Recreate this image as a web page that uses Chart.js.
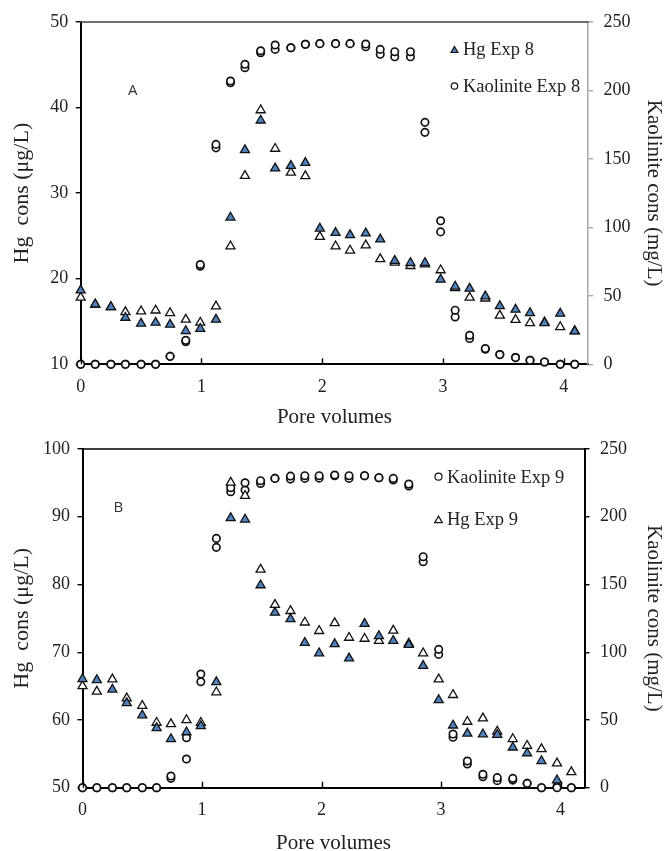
<!DOCTYPE html>
<html>
<head>
<meta charset="utf-8">
<script src="https://cdn.jsdelivr.net/npm/chart.js@4.4.1/dist/chart.umd.min.js"></script>
<style>
  html, body { margin: 0; padding: 0; background: #fff; }
  #wrap { position: relative; width: 664px; height: 851px; }
  #wrap canvas { position: absolute; left: 0; top: 0; }
</style>
</head>
<body>
<div id="wrap">
  <canvas id="exp8" width="664" height="851"></canvas>
  <canvas id="exp9" width="664" height="851"></canvas>
</div>
<script>
// Sampling points (pore volumes eluted)
const poreVolumes = [0, 0.12, 0.25, 0.37, 0.50, 0.62, 0.74, 0.87, 0.99, 1.12,
  1.24, 1.36, 1.49, 1.61, 1.74, 1.86, 1.98, 2.11, 2.23, 2.36,
  2.48, 2.60, 2.73, 2.85, 2.98, 3.10, 3.22, 3.35, 3.47, 3.60,
  3.72, 3.84, 3.97, 4.09];

// Experiment 8 — Hg (µg/L), two replicate columns
const hgExp8A = [18.65, 17.0, 16.7, 15.45, 14.76, 14.87, 14.64, 13.9, 14.16, 15.23,
  27.16, 35.03, 38.5, 32.9, 33.2, 33.55, 25.87, 25.36, 25.1, 25.3,
  24.6, 22.1, 21.85, 21.85, 19.9, 19.1, 18.85, 17.95, 16.8, 16.4,
  16.0, 14.83, 15.93, 13.86];
const hgExp8B = [17.8, 17.0, 16.7, 16.1, 16.2, 16.3, 16.0, 15.23, 14.87, 16.78,
  23.8, 32.02, 39.7, 35.2, 32.4, 32.0, 24.9, 23.8, 23.3, 23.9,
  22.3, 21.9, 21.5, 21.7, 21.0, 18.93, 17.8, 17.7, 15.7, 15.2,
  14.83, 14.9, 14.36, 13.9];
// Experiment 8 — kaolinite (mg/L)
const kaolExp8A = [0, 0, 0, 0, 0, 0, 5.8, 17.5, 72.9, 160.6,
  206.9, 219.1, 229.0, 233.2, 231.2, 233.7, 234.2, 234.2, 234.2, 233.9,
  230.0, 228.3, 228.3, 176.7, 104.8, 39.5, 21.2, 11.5, 7.1, 4.9,
  2.9, 1.7, 0, 0];
const kaolExp8B = [0, 0, 0, 0, 0, 0, 5.8, 16.5, 71.6, 158.1,
  205.6, 216.6, 227.6, 230.0, 231.2, 233.7, 234.2, 234.2, 234.2, 231.9,
  226.4, 224.6, 224.6, 169.4, 96.7, 34.6, 18.8, 11.0, 7.1, 4.9,
  2.9, 1.7, 0, 0];

// Experiment 9 — Hg (µg/L)
const hgExp9A = [66.05, 65.9, 64.5, 62.5, 60.7, 58.8, 57.2, 58.2, 59.1, 65.6,
  89.8, 89.6, 79.9, 75.85, 74.9, 71.4, 69.85, 71.2, 69.1, 74.2,
  72.4, 71.7, 71.1, 68.0, 62.95, 59.2, 58.0, 57.9, 57.8, 55.95,
  55.1, 53.95, 51.1, null];
const hgExp9B = [65.0, 64.2, 66.0, 63.2, 62.1, 59.6, 59.4, 60.0, 59.6, 64.1,
  95.05, 93.1, 82.2, 77.0, 76.1, 74.4, 73.15, 74.3, 72.15, 72.0,
  71.7, 73.2, 71.3, 69.85, 66.0, 63.7, 59.75, 60.25, 58.3, 57.2,
  56.2, 55.7, 53.6, 52.3];
// Experiment 9 — kaolinite (mg/L)
const kaolExp9A = [0, 0, 0, 0, 0, 0, 8.6, 36.9, 83.9, 184.0,
  221.4, 225.1, 226.6, 228.3, 230.0, 230.3, 230.3, 230.8, 230.3, 230.3,
  228.8, 228.3, 224.1, 170.5, 102.1, 39.6, 19.7, 9.9, 7.4, 6.9,
  3.2, 0, 0, 0];
const kaolExp9B = [0, 0, 0, 0, 0, 0, 6.9, 21.2, 78.2, 177.4,
  218.5, 219.7, 224.6, 228.3, 227.8, 228.3, 228.5, 230.3, 228.3, 230.3,
  228.8, 227.1, 222.7, 166.8, 98.4, 37.2, 17.5, 8.1, 5.2, 5.6,
  3.2, 0, 1, 0];

// Axis ticks
const poreTicks = [0, 1, 2, 3, 4];
const hgTicks8 = [10, 20, 30, 40, 50];
const hgTicks9 = [50, 60, 70, 80, 90, 100];
const kaolTicks = [0, 50, 100, 150, 200, 250];

const SERIF = "'Liberation Serif', 'Times New Roman', serif";
const BLUE = '#4f81bd';

function points(values) {
  return poreVolumes.map((x, i) => ({ x: x, y: values[i] }));
}

function triPath(ctx, x, y, r) {
  ctx.beginPath();
  for (let k = 0; k < 3; k++) {
    const a = k * 2 * Math.PI / 3;
    const px = x + Math.sin(a) * r, py = y - Math.cos(a) * r;
    if (k === 0) ctx.moveTo(px, py); else ctx.lineTo(px, py);
  }
  ctx.closePath();
}

// Frame line on top, inward ticks on the pore-volume axis, panel letter and legend
const decor = {
  id: 'decor',
  afterDraw(chart, args, opts) {
    const ctx = chart.ctx, a = chart.chartArea, xs = chart.scales.x;
    ctx.save();
    ctx.strokeStyle = opts.topColor;
    ctx.lineWidth = opts.topWidth;
    ctx.beginPath();
    ctx.moveTo(a.left - 1, a.top);
    ctx.lineTo(a.right + 0.5, a.top);
    ctx.stroke();

    ctx.strokeStyle = '#000';
    ctx.lineWidth = 1.4;
    xs.ticks.forEach(t => {
      const px = Math.round(xs.getPixelForValue(t.value)) + 0.5;
      ctx.beginPath();
      ctx.moveTo(px, a.bottom);
      ctx.lineTo(px, a.bottom - 6);
      ctx.stroke();
    });

    ctx.font = "15px 'Open Sans', Lato, sans-serif";
    ctx.fillStyle = '#333';
    ctx.textAlign = 'center';
    ctx.textBaseline = 'middle';
    ctx.fillText(opts.letter.text, opts.letter.x, opts.letter.y);

    ctx.font = '18.5px ' + SERIF;
    ctx.textAlign = 'left';
    opts.legend.forEach(item => {
      ctx.lineWidth = 1.2;
      ctx.strokeStyle = '#111';
      ctx.fillStyle = item.fill;
      if (item.style === 'triangle') {
        triPath(ctx, item.x, item.y + 1, item.r);
      } else {
        ctx.beginPath();
        ctx.arc(item.x, item.y, item.r, 0, 2 * Math.PI);
      }
      ctx.fill();
      ctx.stroke();
      ctx.fillStyle = '#222';
      ctx.fillText(item.text, item.x + 8.5, item.y + 1);
    });
    ctx.restore();
  }
};

function hgSet(label, values, filled) {
  return {
    label: label, data: points(values),
    pointStyle: 'triangle', pointRadius: 5.2,
    backgroundColor: filled ? BLUE : '#fff',
    borderColor: '#111', borderWidth: 1.3, clip: false,
    yAxisID: 'y'
  };
}
function kaolSet(label, values) {
  return {
    label: label, data: points(values),
    pointStyle: 'circle', pointRadius: 3.7,
    backgroundColor: '#fff',
    borderColor: '#111', borderWidth: 1.7, clip: false,
    yAxisID: 'y1'
  };
}

function makeChart(id, cfg) {
  const tickFont = { family: SERIF, size: 18 };
  const titleFont = { family: SERIF, size: 21, lineHeight: 1 };
  return new Chart(document.getElementById(id), {
    type: 'scatter',
    data: { datasets: cfg.datasets },
    plugins: [decor],
    options: {
      responsive: false,
      animation: false,
      devicePixelRatio: 1,
      layout: { padding: cfg.padding },
      plugins: { legend: { display: false }, tooltip: { enabled: false }, decor: cfg.decor },
      scales: {
        x: {
          type: 'linear', min: 0, max: 4.2,
          afterBuildTicks: s => { s.ticks = poreTicks.map(v => ({ value: v })); },
          afterFit: s => { s.height = cfg.xHeight; },
          ticks: { font: tickFont, color: '#222', padding: 12, maxRotation: 0 },
          grid: { display: false, drawTicks: false },
          border: { color: '#000', width: 2 },
          title: { display: true, text: 'Pore volumes', font: titleFont, color: '#222',
                   padding: { top: 0, bottom: cfg.xTitlePad } }
        },
        y: {
          position: 'left', min: cfg.hgTicks[0], max: cfg.hgTicks[cfg.hgTicks.length - 1],
          afterBuildTicks: s => { s.ticks = cfg.hgTicks.map(v => ({ value: v })); },
          afterFit: s => { s.width = cfg.leftWidth; },
          ticks: { font: tickFont, color: '#222', padding: 7.5 },
          grid: { drawOnChartArea: false, drawTicks: true, tickLength: 5, color: '#000', lineWidth: 1.4 },
          border: { color: '#000', width: 2 },
          title: { display: true, text: 'Hg  cons (μg/L)', font: { family: SERIF, size: 22, lineHeight: 1 }, color: '#222',
                   padding: { top: 11, bottom: 0 } }
        },
        y1: {
          position: 'right', min: 0, max: 250,
          afterBuildTicks: s => { s.ticks = kaolTicks.map(v => ({ value: v })); },
          afterFit: s => { s.width = cfg.rightWidth; },
          ticks: { font: tickFont, color: '#222', padding: 10.5 },
          grid: { drawOnChartArea: false, drawTicks: true, tickLength: 5, color: cfg.rightColor, lineWidth: 1.4 },
          border: { color: cfg.rightColor, width: cfg.rightBorder },
          title: { display: true, text: 'Kaolinite cons (mg/L)', font: titleFont, color: '#222',
                   padding: { top: 0, bottom: 0 } }
        }
      }
    }
  });
}

// Panel A — experiment 8
makeChart('exp8', {
  datasets: [
    hgSet('Hg Exp 8', hgExp8A, true),
    hgSet('Hg Exp 8 (replicate)', hgExp8B, false),
    kaolSet('Kaolinite Exp 8', kaolExp8A),
    kaolSet('Kaolinite Exp 8 (replicate)', kaolExp8B)
  ],
  padding: { left: 0, right: 0, top: 22, bottom: 421 },
  xHeight: 65.7, xTitlePad: 2.5,
  leftWidth: 80.7, rightWidth: 76,
  hgTicks: hgTicks8,
  rightColor: '#a6a6a6', rightBorder: 1.5,
  decor: {
    topColor: '#404040', topWidth: 1.6,
    letter: { text: 'A', x: 132.7, y: 90.7 },
    legend: [
      { text: 'Hg Exp 8', style: 'triangle', fill: BLUE, r: 4, x: 454.5, y: 49.5 },
      { text: 'Kaolinite Exp 8', style: 'circle', fill: '#fff', r: 3.2, x: 454.5, y: 86 }
    ]
  }
});

// Panel B — experiment 9
makeChart('exp9', {
  datasets: [
    hgSet('Hg Exp 9', hgExp9A, true),
    hgSet('Hg Exp 9 (replicate)', hgExp9B, false),
    kaolSet('Kaolinite Exp 9', kaolExp9A),
    kaolSet('Kaolinite Exp 9 (replicate)', kaolExp9B)
  ],
  padding: { left: 0, right: 0, top: 449, bottom: 0 },
  xHeight: 63.3, xTitlePad: -2.5,
  leftWidth: 82.5, rightWidth: 79.5,
  hgTicks: hgTicks9,
  rightColor: '#000', rightBorder: 2,
  decor: {
    topColor: '#000', topWidth: 1.6,
    letter: { text: 'B', x: 118.3, y: 507.3 },
    legend: [
      { text: 'Kaolinite Exp 9', style: 'circle', fill: '#fff', r: 3.5, x: 438.5, y: 476.7 },
      { text: 'Hg Exp 9', style: 'triangle', fill: '#fff', r: 4.4, x: 438.5, y: 519.5 }
    ]
  }
});
</script>
</body>
</html>
